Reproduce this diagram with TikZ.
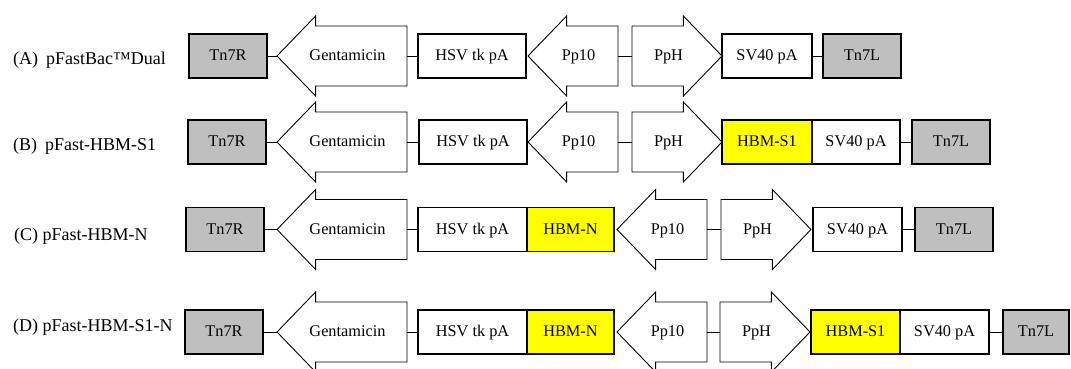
\documentclass[tikz,border=0pt]{standalone}
\usepackage{fontspec}
\setmainfont{Liberation Serif}
\usetikzlibrary{shapes.arrows,positioning}

\definecolor{tngray}{RGB}{191,191,191}
\definecolor{hbmyellow}{RGB}{255,255,0}

\begin{document}
\begin{tikzpicture}[x=1pt,y=-1pt,
  box/.style={draw,line width=1.8pt,inner sep=0pt,outer sep=0pt,minimum height=44pt,
    font=\fontsize{16.3}{18}\selectfont,text height=12pt,text depth=3pt},
  tnbox/.style={box,fill=tngray,minimum width=78pt},
  pabox/.style={box,fill=white},
  hbmbox/.style={box,fill=hbmyellow},
  genebase/.style={draw,fill=white,single arrow,line width=0.9pt,inner sep=0pt,outer sep=0pt,
    minimum width=80pt,minimum height=90pt,single arrow tip angle=92,
    font=\fontsize{16.3}{18}\selectfont,text height=25.5pt,text depth=16.5pt},
  gene/.style={genebase,execute at begin node=\kern6pt,execute at end node=\kern-6pt},
  revgene/.style={genebase,shape border rotate=180,
    execute at begin node=\kern-9pt,execute at end node=\kern9pt},
  link/.style={line width=0.9pt},
  tag/.style={anchor=west,inner sep=0pt,font=\fontsize{18}{20}\selectfont}]
\useasboundingbox (0,0) rectangle (1071,369);

\node[tag] (labA) at (13,60) {(A)\hspace{8pt}pFastBac\texttrademark Dual};
\node[tnbox,anchor=west] (tnrA) at (189,56) {Tn7R};
\node[revgene,minimum height=130pt,anchor=tip] (gentA) at (277,56) {Gentamicin};
\node[pabox,minimum width=108pt,anchor=west] (hsvA) at (418,56) {HSV tk pA};
\node[revgene,anchor=tip] (p10A) at (528,56) {Pp10};
\node[gene,anchor=tail] (phA) at (632,56) {PpH};
\node[pabox,minimum width=90pt,anchor=west] (svA) at (phA.tip) {SV40 pA};
\node[tnbox,anchor=west] (tnlA) at (823,56) {Tn7L};
\draw[link] (tnrA) -- (gentA.tip) (gentA.tail) -- (hsvA) (p10A.tail) -- (phA.tail) (svA) -- (tnlA);

\node[tag] (labB) at (13,146) {(B)\hspace{8pt}pFast-HBM-S1};
\node[tnbox,anchor=west] (tnrB) at (188,142) {Tn7R};
\node[revgene,minimum height=130pt,anchor=tip] (gentB) at (277,142) {Gentamicin};
\node[pabox,minimum width=108pt,anchor=west] (hsvB) at (419,142) {HSV tk pA};
\node[revgene,anchor=tip] (p10B) at (528,142) {Pp10};
\node[gene,anchor=tail] (phB) at (632,142) {PpH};
\node[hbmbox,minimum width=90pt,anchor=west] (s1B) at (phB.tip) {HBM-S1};
\node[pabox,minimum width=88pt,right=0pt of s1B] (svB) {SV40 pA};
\node[tnbox,anchor=west] (tnlB) at (912,142) {Tn7L};
\draw[link] (tnrB) -- (gentB.tip) (gentB.tail) -- (hsvB) (p10B.tail) -- (phB.tail) (svB) -- (tnlB);

\node[tag] (labC) at (14,236) {(C) pFast-HBM-N};
\node[tnbox,anchor=west] (tnrC) at (186,229.5) {Tn7R};
\node[revgene,minimum height=130pt,anchor=tip] (gentC) at (277,229.5) {Gentamicin};
\node[pabox,minimum width=109pt,anchor=west] (hsvC) at (418,229.5) {HSV tk pA};
\node[hbmbox,minimum width=87pt,right=0pt of hsvC] (nC) {HBM-N};
\node[revgene,anchor=tip] (p10C) at (617,229.5) {Pp10};
\node[gene,anchor=tail] (phC) at (721,229.5) {PpH};
\node[pabox,minimum width=89pt,anchor=west] (svC) at (813,229.5) {SV40 pA};
\node[tnbox,anchor=west] (tnlC) at (915,229.5) {Tn7L};
\draw[link] (tnrC) -- (gentC.tip) (gentC.tail) -- (hsvC) (p10C.tail) -- (phC.tail) (svC) -- (tnlC);

\node[tag] (labD) at (13,327) {(D) pFast-HBM-S1-N};
\node[tnbox,anchor=west] (tnrD) at (185,332) {Tn7R};
\node[revgene,minimum height=130pt,anchor=tip] (gentD) at (277,332) {Gentamicin};
\node[pabox,minimum width=109pt,anchor=west] (hsvD) at (418,332) {HSV tk pA};
\node[hbmbox,minimum width=87pt,right=0pt of hsvD] (nD) {HBM-N};
\node[revgene,anchor=tip] (p10D) at (617,332) {Pp10};
\node[gene,anchor=tail] (phD) at (720,332) {PpH};
\node[hbmbox,minimum width=89pt,anchor=west] (s1D) at (811,332) {HBM-S1};
\node[pabox,minimum width=89pt,right=0pt of s1D] (svD) {SV40 pA};
\node[tnbox,minimum width=66pt,anchor=west] (tnlD) at (1003,332) {Tn7L};
\draw[link] (tnrD) -- (gentD.tip) (gentD.tail) -- (hsvD) (p10D.tail) -- (phD.tail) (svD) -- (tnlD);
\end{tikzpicture}
\end{document}
